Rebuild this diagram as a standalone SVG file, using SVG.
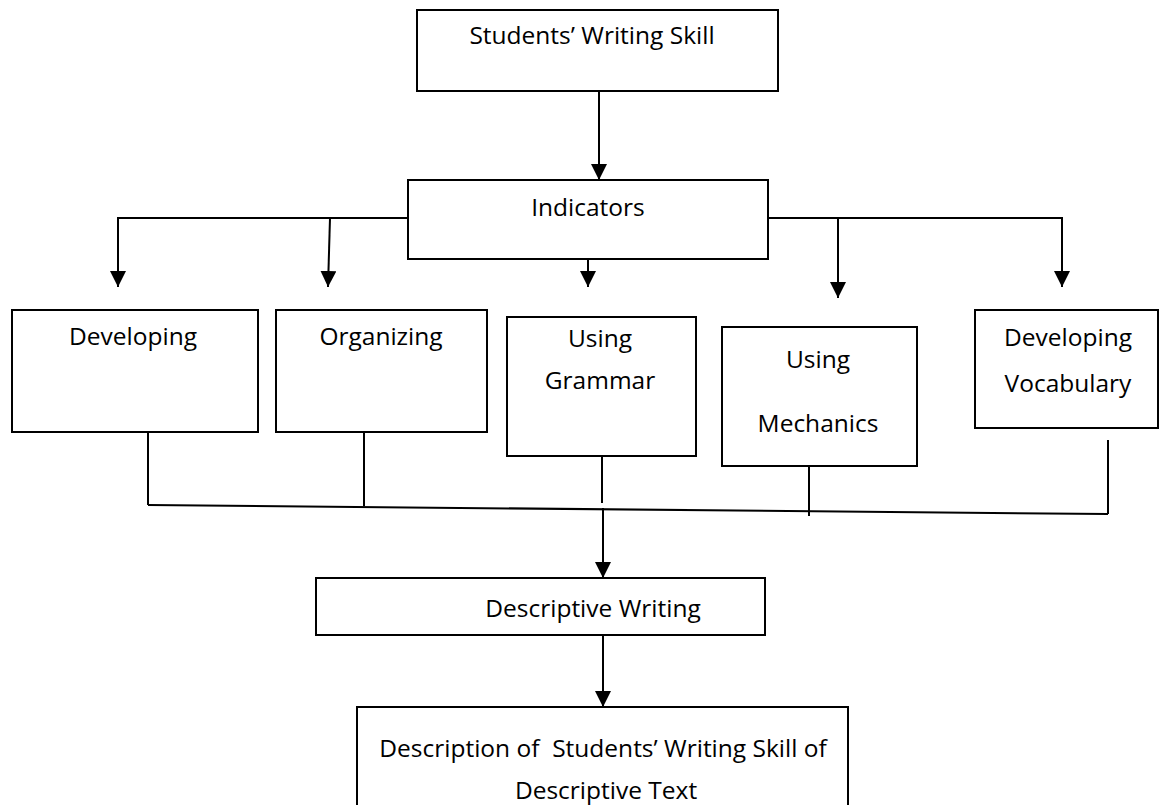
<svg xmlns="http://www.w3.org/2000/svg" width="1160" height="805" viewBox="0 0 1160 805">
<defs>
<marker id="ah" markerUnits="userSpaceOnUse" markerWidth="16" markerHeight="16" refX="14" refY="7" orient="auto" viewBox="0 0 14 14">
<path d="M0,0 L14,7 L0,14 Z" fill="#000"/>
</marker>
<style>
.n rect{fill:#fff;stroke:#000;stroke-width:2}
text{font-family:"Open Sans","Liberation Sans",sans-serif;font-size:24.5px;fill:#000;text-anchor:middle}
.c line,.c path{stroke:#000;stroke-width:2;fill:none}
.a{marker-end:url(#ah)}
.t{stroke-width:1.5}
</style>
</defs>
<rect width="1160" height="805" fill="#fff"/>
<g id="n-skill" class="n"><rect x="417" y="10" width="361" height="81"/><text x="592" y="44">Students’ Writing Skill</text></g>
<g id="n-indicators" class="n"><rect x="408" y="180" width="360" height="79"/><text x="588" y="216">Indicators</text></g>
<g id="n-developing" class="n"><rect x="12" y="310" width="246" height="122"/><text x="133" y="345">Developing</text></g>
<g id="n-organizing" class="n"><rect x="276" y="310" width="211" height="122"/><text x="381" y="345">Organizing</text></g>
<g id="n-grammar" class="n"><rect x="507" y="317" width="189" height="139"/><text x="600" y="347">Using</text><text x="600" y="389">Grammar</text></g>
<g id="n-mechanics" class="n"><rect x="722" y="327" width="195" height="139"/><text x="818" y="368">Using</text><text x="818" y="432">Mechanics</text></g>
<g id="n-vocabulary" class="n"><rect x="975" y="310" width="183" height="118"/><text x="1068" y="346">Developing</text><text x="1068" y="392">Vocabulary</text></g>
<g id="n-descwriting" class="n"><rect x="316" y="578" width="449" height="57"/><text x="593" y="617">Descriptive Writing</text></g>
<g id="n-description" class="n"><rect x="357" y="707" width="491" height="110"/><text x="603" y="757" xml:space="preserve">Description of  Students’ Writing Skill of</text><text x="606" y="799">Descriptive Text</text></g>
<g id="connectors" class="c">
<line class="a" x1="599" y1="91" x2="599" y2="180"/>
<path d="M408,218 H118"/>
<line class="a" x1="118" y1="217" x2="118" y2="287"/>
<line class="a" x1="330" y1="218" x2="328" y2="287"/>
<line class="a" x1="588" y1="259" x2="588" y2="287"/>
<path d="M768,218 H1062"/>
<line class="a" x1="838" y1="217" x2="838" y2="298"/>
<line class="a" x1="1062" y1="217" x2="1062" y2="287"/>
<line class="t" x1="148" y1="432" x2="148" y2="505"/>
<line class="t" x1="364" y1="432" x2="364" y2="506"/>
<line class="t" x1="602" y1="456" x2="602" y2="503"/>
<line class="t" x1="809" y1="466" x2="809" y2="516"/>
<line class="t" x1="1108" y1="440" x2="1108" y2="514"/>
<line x1="148" y1="505" x2="1108" y2="514"/>
<line class="a" x1="603" y1="508" x2="603" y2="578"/>
<line class="a" x1="603" y1="635" x2="603" y2="707"/>
</g>
</svg>
